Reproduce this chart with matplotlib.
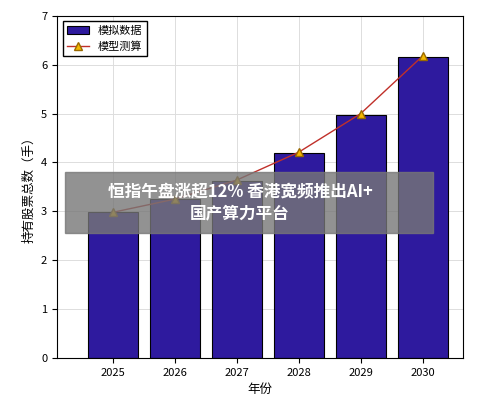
import matplotlib
matplotlib.use("Agg")
import matplotlib.pyplot as plt

plt.rcParams['font.family'] = ['Noto Sans CJK SC', 'DejaVu Sans']

years = ["2025", "2026", "2027", "2028", "2029", "2030"]
sim_data = [2.98, 3.25, 3.62, 4.2, 4.98, 6.16]
model_fit = [2.98, 3.25, 3.64, 4.21, 5.0, 6.18]

fig = plt.figure(figsize=(5.0, 4.05), dpi=100)
ax = fig.add_axes([0.114, 0.116, 0.812, 0.845])
x = range(len(years))
bars = ax.bar(x, sim_data, width=0.8, color="#2e1a9e", edgecolor="black", linewidth=0.8,
              label="模拟数据", zorder=2)
line, = ax.plot(x, model_fit, "-^", color="#c0302a", markerfacecolor="#f5b800",
                markeredgecolor="#9a6a00", markersize=6, linewidth=1, label="模型测算", zorder=3)
ax.set_xticks(list(x))
ax.set_xticklabels(years, fontsize=8)
ax.set_xlim(-0.9, 5.65)
ax.set_ylim(0, 7)
ax.tick_params(labelsize=8)
ax.set_xlabel("年份", fontsize=9)
ax.set_ylabel("持有股票总数（手）", fontsize=9)
ax.grid(True, color="#dddddd", linewidth=0.7, zorder=0)
ax.set_axisbelow(True)
ax.legend([bars, line], ["模拟数据", "模型测算"], loc="upper left", fontsize=8,
          fancybox=False, edgecolor="black", framealpha=1)

fig.patches.append(plt.Rectangle((0.13, 0.425), 0.735, 0.15, transform=fig.transFigure,
                                 color="#777777", alpha=0.8, zorder=10))
fig.text(0.48, 0.50, "恒指午盘涨超12% 香港宽频推出AI+\n国产算力平台", ha="center", va="center",
         fontsize=12, fontweight="bold", color="white", zorder=11, linespacing=1.3)
fig.text(0.97, 0.03, "雪球：明骏2025", ha="right", va="center", fontsize=9,
         color="white", alpha=0.9, zorder=11)
fig.savefig("out.png", dpi=100)
